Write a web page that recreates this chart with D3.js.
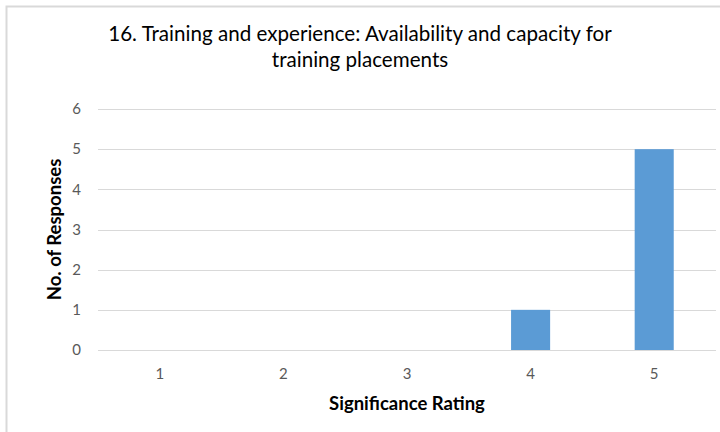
<!DOCTYPE html>
<html>
<head>
<meta charset="utf-8">
<script src="https://cdn.jsdelivr.net/npm/d3@7"></script>
<style>
  body { margin: 0; background: #fff; }
  svg { display: block; }
</style>
</head>
<body>
<svg></svg>
<script>
const width = 720;
const height = 432;

// Données
const ratings = ["1", "2", "3", "4", "5"];
const responses = [0, 0, 0, 1, 5];
const yTicks = [0, 1, 2, 3, 4, 5, 6];
const titleLines = [
  "16. Training and experience: Availability and capacity for",
  "training placements"
];

const font = "Lato, 'Open Sans', sans-serif";

const svg = d3.select("svg")
  .attr("width", width)
  .attr("height", height);

// cadre du graphique
svg.append("rect")
  .attr("x", 6.5).attr("y", 6.5)
  .attr("width", width).attr("height", height)
  .attr("fill", "#fff")
  .attr("stroke", "#d9d9d9")
  .attr("stroke-width", 2);

const plot = { left: 98, right: 716, top: 109, bottom: 350 };

const x = d3.scaleBand()
  .domain(ratings)
  .range([plot.left, plot.right])
  .paddingInner(0.684)
  .paddingOuter(0.342);

const y = d3.scaleLinear()
  .domain([0, 6])
  .range([plot.bottom, plot.top]);

// grille horizontale
svg.append("g")
  .selectAll("line")
  .data(yTicks)
  .join("line")
  .attr("x1", plot.left)
  .attr("x2", plot.right)
  .attr("y1", d => Math.round(y(d)) + 0.5)
  .attr("y2", d => Math.round(y(d)) + 0.5)
  .attr("stroke", "#d9d9d9")
  .attr("stroke-width", 1);

// barres
svg.append("g")
  .selectAll("rect")
  .data(responses)
  .join("rect")
  .attr("x", (d, i) => x(ratings[i]))
  .attr("width", x.bandwidth())
  .attr("y", d => y(d))
  .attr("height", d => y(0) - y(d))
  .attr("fill", "#5b9bd5");

// étiquettes axe Y
svg.append("g")
  .selectAll("text")
  .data(yTicks)
  .join("text")
  .attr("x", 81)
  .attr("y", d => y(d))
  .attr("dy", "0.35em")
  .attr("text-anchor", "end")
  .attr("font-family", font)
  .attr("font-size", 15)
  .attr("fill", "#595959")
  .text(d => d);

// étiquettes axe X
svg.append("g")
  .selectAll("text")
  .data(ratings)
  .join("text")
  .attr("x", d => x(d) + x.bandwidth() / 2)
  .attr("y", 379)
  .attr("text-anchor", "middle")
  .attr("font-family", font)
  .attr("font-size", 15)
  .attr("fill", "#595959")
  .text(d => d);

// titres des axes
svg.append("text")
  .attr("x", (plot.left + plot.right) / 2)
  .attr("y", 410)
  .attr("text-anchor", "middle")
  .attr("font-family", font)
  .attr("font-size", 18.5)
  .attr("font-weight", "bold")
  .attr("fill", "#000")
  .text("Significance Rating");

svg.append("text")
  .attr("transform", `translate(61, ${(plot.top + plot.bottom) / 2}) rotate(-90)`)
  .attr("text-anchor", "middle")
  .attr("font-family", font)
  .attr("font-size", 18.5)
  .attr("font-weight", "bold")
  .attr("fill", "#000")
  .text("No. of Responses");

// titre
svg.append("g")
  .selectAll("text")
  .data(titleLines)
  .join("text")
  .attr("x", 360)
  .attr("y", (d, i) => 41 + i * 26)
  .attr("text-anchor", "middle")
  .attr("font-family", font)
  .attr("font-size", 20.6)
  .attr("fill", "#000")
  .text(d => d);
</script>
</body>
</html>
